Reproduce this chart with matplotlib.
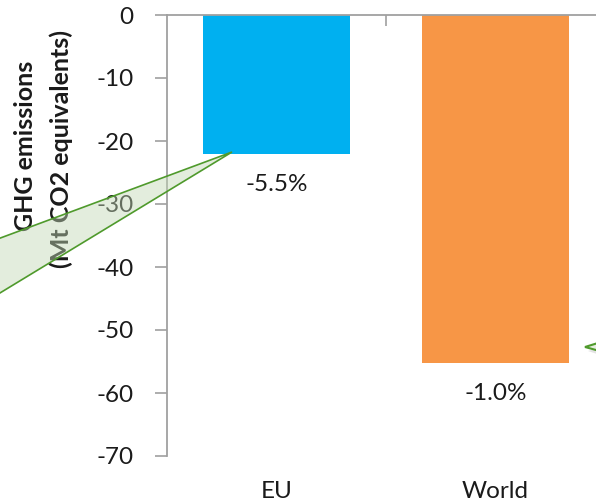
import matplotlib.pyplot as plt
from matplotlib.patches import Polygon

regions = ['EU', 'World']
change_mt = [-22.1, -55.3]
change_pct = ['-5.5%', '-1.0%']
bar_colors = ['#00B0F0', '#F79646']
yticks = [0, -10, -20, -30, -40, -50, -60, -70]

plt.rcParams['font.family'] = ['Lato', 'DejaVu Sans']

fig = plt.figure(figsize=(5.96, 5.04), dpi=100)
W, H = 596, 504
ax = fig.add_axes([167 / W, (H - 456) / H, 438 / W, 441 / H])

x = list(range(len(regions)))
ax.bar(x, change_mt, width=0.667, color=bar_colors, zorder=2)
ax.set_xlim(-0.5, 1.5)
ax.set_ylim(-70, 0)

# y axis
ax.set_yticks(yticks)
ax.set_yticklabels([str(v) for v in yticks], fontsize=17.5, color='#1a1a1a')
ax.tick_params(axis='y', direction='out', length=9, width=1.2, color='#a0a0a0', pad=15)

# x axis line sits at zero (top), category separator tick pointing down
for s in ['right', 'bottom']:
    ax.spines[s].set_visible(False)
for s in ['left', 'top']:
    ax.spines[s].set_color('#a0a0a0')
    ax.spines[s].set_linewidth(1.3)
ax.xaxis.set_ticks_position('top')
ax.set_xticks([0.5])
ax.set_xticklabels([''])
ax.tick_params(axis='x', direction='in', length=8, width=1.2, color='#a0a0a0')

for xi, name in zip(x, regions):
    ax.text(xi, -35 / 441, name, transform=ax.get_xaxis_transform(), ha='center', va='center',
            fontsize=17.5, color='#1a1a1a')

for xi, v, lab in zip(x, change_mt, change_pct):
    ax.annotate(lab, (xi, v), xytext=(0, -30), textcoords='offset pixels',
                ha='center', va='center', fontsize=17.5, color='#1a1a1a')

fig.text(26 / W, 1 - 146 / H, 'GHG emissions', rotation=90, ha='center', va='center',
         fontsize=18, fontweight='bold', color='#1a1a1a')
fig.text(61 / W, 1 - 149 / H, '(Mt CO2 equivalents)', rotation=90, ha='center', va='center',
         fontsize=18, fontweight='bold', color='#1a1a1a')

def px(pts):
    return [(px_x / W, 1 - px_y / H) for px_x, px_y in pts]

# callout pointers (left one aims at the EU bar, right one comes in from off-canvas)
fig.patches.append(Polygon(px([(232, 152), (-5, 240), (-5, 296)]), closed=True,
                           transform=fig.transFigure, facecolor=(0.76, 0.85, 0.71, 0.45),
                           edgecolor='#4f9a2c', linewidth=1.2, zorder=5))
fig.patches.append(Polygon(px([(588, 351), (640, 335), (640, 368)]), closed=True,
                           transform=fig.transFigure, facecolor='#c8c8c8', alpha=0.5,
                           edgecolor='none', zorder=4))
fig.patches.append(Polygon(px([(585, 347), (640, 330), (640, 362)]), closed=True,
                           transform=fig.transFigure, facecolor='#e6eedf',
                           edgecolor='#4f9a2c', linewidth=1.5, zorder=5))

fig.savefig('out.png', dpi=100)
